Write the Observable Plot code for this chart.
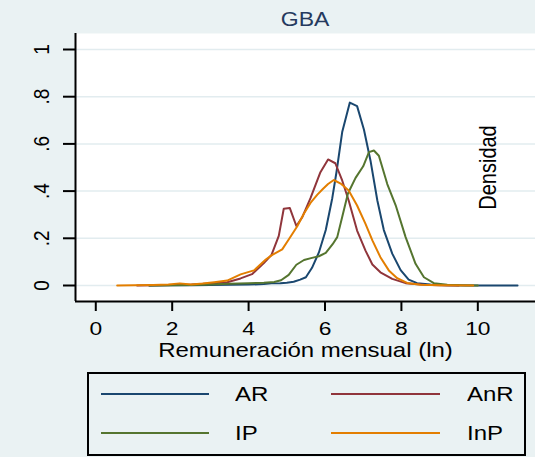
<!DOCTYPE html>
<html><head><meta charset="utf-8">
<script src="https://cdn.jsdelivr.net/npm/d3@7"></script>
<script src="https://cdn.jsdelivr.net/npm/@observablehq/plot@0.6"></script>
<style>
html,body{margin:0;padding:0;background:#eaf2f3;}
body{width:535px;height:457px;position:relative;overflow:hidden;font-family:"Liberation Sans",Arial,sans-serif;}
#title{position:absolute;left:75px;width:460px;top:7px;text-align:center;font-size:20px;color:#253a5e;line-height:24px;}
#title span{display:inline-block;transform:scaleX(1.15);}
#chart{position:absolute;left:0;top:33px;}
#legend{position:absolute;left:87px;top:372px;width:439px;height:84px;border:2px solid #000;box-sizing:border-box;}
.lg-line{position:absolute;height:2px;}
.lg-text{position:absolute;height:24px;line-height:24px;font-size:20px;color:#000;transform:scaleX(1.2);transform-origin:left center;white-space:nowrap;}
</style>
</head><body>
<div id="title"></div>
<div id="chart"></div>
<div id="legend"></div>
<script>
const title = "GBA";
const xLabel = "Remuneración mensual (ln)";
const yLabel = "Densidad";
const xTicks = [0, 2, 4, 6, 8, 10];
const yTicks = [0, 0.2, 0.4, 0.6, 0.8, 1];
const yTickLabels = ["0", ".2", ".4", ".6", ".8", "1"];
const seriesNames = ["AR", "AnR", "IP", "InP"];
const seriesColors = ["#1a476f", "#90353b", "#55752f", "#e37e00"];

const arX = [1.4, 2.0, 2.5, 3.0, 3.5, 4.0, 4.4, 4.6, 4.83, 5.0, 5.18, 5.35, 5.5, 5.66, 5.84, 6.02, 6.19, 6.3, 6.45, 6.65, 6.84, 7.02, 7.19, 7.37, 7.54, 7.76, 7.98, 8.19, 8.41, 8.76, 9.2, 9.7, 10.3, 11.04];
const arY = [0, 0.001, 0.001, 0.002, 0.003, 0.004, 0.006, 0.009, 0.010, 0.012, 0.016, 0.025, 0.035, 0.075, 0.14, 0.235, 0.37, 0.48, 0.65, 0.775, 0.76, 0.66, 0.53, 0.36, 0.235, 0.135, 0.065, 0.025, 0.01, 0.004, 0.001, 0, 0, 0];

const anrX = [1.08, 1.5, 2.0, 2.5, 3.0, 3.44, 3.79, 4.09, 4.4, 4.6, 4.79, 4.92, 5.08, 5.25, 5.4, 5.62, 5.88, 6.08, 6.27, 6.45, 6.62, 6.84, 7.06, 7.24, 7.45, 7.76, 8.11, 8.59, 9.0, 9.5];
const anrY = [0, 0.001, 0.002, 0.004, 0.008, 0.014, 0.03, 0.048, 0.095, 0.13, 0.21, 0.325, 0.328, 0.252, 0.288, 0.37, 0.48, 0.534, 0.518, 0.445, 0.36, 0.233, 0.148, 0.089, 0.056, 0.028, 0.01, 0.003, 0.001, 0];

const ipX = [1.4, 2.0, 2.5, 3.0, 3.5, 4.0, 4.4, 4.67, 4.85, 5.05, 5.25, 5.45, 5.66, 5.84, 6.02, 6.2, 6.32, 6.45, 6.6, 6.8, 7.0, 7.15, 7.28, 7.41, 7.63, 7.85, 8.11, 8.37, 8.59, 8.85, 9.2, 9.6, 10.0];
const ipY = [0, 0.001, 0.002, 0.004, 0.007, 0.01, 0.012, 0.015, 0.022, 0.045, 0.088, 0.108, 0.117, 0.124, 0.138, 0.175, 0.205, 0.29, 0.39, 0.456, 0.505, 0.565, 0.572, 0.55, 0.43, 0.34, 0.205, 0.092, 0.035, 0.01, 0.003, 0.001, 0];

const inpX = [0.56, 1.0, 1.5, 1.9, 2.2, 2.5, 2.8, 3.1, 3.44, 3.79, 4.14, 4.45, 4.62, 4.88, 5.05, 5.27, 5.45, 5.62, 5.8, 5.95, 6.08, 6.23, 6.41, 6.62, 6.84, 7.06, 7.24, 7.45, 7.67, 7.89, 8.15, 8.5, 9.0, 9.88];
const inpY = [0, 0.001, 0.002, 0.004, 0.009, 0.004, 0.008, 0.014, 0.021, 0.047, 0.064, 0.11, 0.13, 0.153, 0.195, 0.25, 0.305, 0.35, 0.385, 0.41, 0.43, 0.447, 0.432, 0.403, 0.339, 0.261, 0.191, 0.12, 0.064, 0.031, 0.011, 0.003, 0.001, 0];

const seriesXs = [arX, anrX, ipX, inpX];
const seriesYs = [arY, anrY, ipY, inpY];
const rows = seriesNames.flatMap((name, s) => seriesXs[s].map((x, i) => ({series: name, x, y: seriesYs[s][i]})));

document.getElementById("title").innerHTML = "<span>" + title + "</span>";

const xDomain = [-0.531, 11.51];
const yDomain = [-0.0678, 1.0678];

const chart = Plot.plot({
  width: 535, height: 339,
  marginLeft: 75, marginRight: 0, marginTop: 0, marginBottom: 71,
  style: {background: "transparent", fontFamily: "'Liberation Sans', Arial, sans-serif", color: "black", overflow: "visible"},
  x: {domain: xDomain},
  y: {domain: yDomain},
  color: {domain: seriesNames, range: seriesColors},
  marks: [
    Plot.frame({fill: "white", stroke: "none"}),
    Plot.gridY({ticks: yTicks, stroke: "#e2ecef", strokeOpacity: 1, strokeWidth: 1.5}),
    Plot.line(rows, {x: "x", y: "y", z: "series", stroke: "series", strokeWidth: 2}),
    Plot.ruleX([xDomain[0]], {stroke: "black", strokeWidth: 2}),
    Plot.ruleY([yDomain[0]], {stroke: "black", strokeWidth: 2}),
    Plot.axisX({ticks: xTicks, tickSize: 10, fill: "none", stroke: "black", strokeWidth: 2}),
    Plot.axisY({ticks: yTicks, tickSize: 12, fill: "none", stroke: "black", strokeWidth: 2}),
    Plot.text(xTicks, {x: d => d, frameAnchor: "bottom", dy: 27, text: d => String(d), fontSize: 19, lineAnchor: "middle", fill: "black"}),
    Plot.text(yTicks, {y: d => d, text: (d, i) => yTickLabels[i], frameAnchor: "left", dx: -34, rotate: -90, fontSize: 19, textAnchor: "middle", lineAnchor: "middle", fill: "black"}),
    Plot.text([xLabel], {frameAnchor: "bottom", dy: 49, fontSize: 20, lineAnchor: "middle", fill: "black"}),
    Plot.text([yLabel], {frameAnchor: "right", dx: -47, rotate: -90, fontSize: 20, lineAnchor: "middle", textAnchor: "middle", fill: "black"})
  ]
});
chart.querySelectorAll("text").forEach(t => {
  const tr = t.getAttribute("transform") || "";
  if (tr.includes("rotate(")) t.setAttribute("transform", tr.replace("rotate(", "scale(1.2,1) rotate("));
  else t.setAttribute("transform", tr + " scale(1.2,1)");
});
document.getElementById("chart").appendChild(chart);

const legend = document.getElementById("legend");
const lineLefts = [12, 242], lineWidths = [108, 109], textLefts = [146, 378], rowCenters = [20, 59];
seriesNames.forEach((name, i) => {
  const col = i % 2, row = Math.floor(i / 2);
  const ln = document.createElement("div");
  ln.className = "lg-line";
  ln.style.left = lineLefts[col] + "px";
  ln.style.width = lineWidths[col] + "px";
  ln.style.top = (rowCenters[row] - 1) + "px";
  ln.style.background = seriesColors[i];
  legend.appendChild(ln);
  const tx = document.createElement("div");
  tx.className = "lg-text";
  tx.style.left = textLefts[col] + "px";
  tx.style.top = (rowCenters[row] - 12) + "px";
  tx.textContent = name;
  legend.appendChild(tx);
});
</script>
</body></html>
